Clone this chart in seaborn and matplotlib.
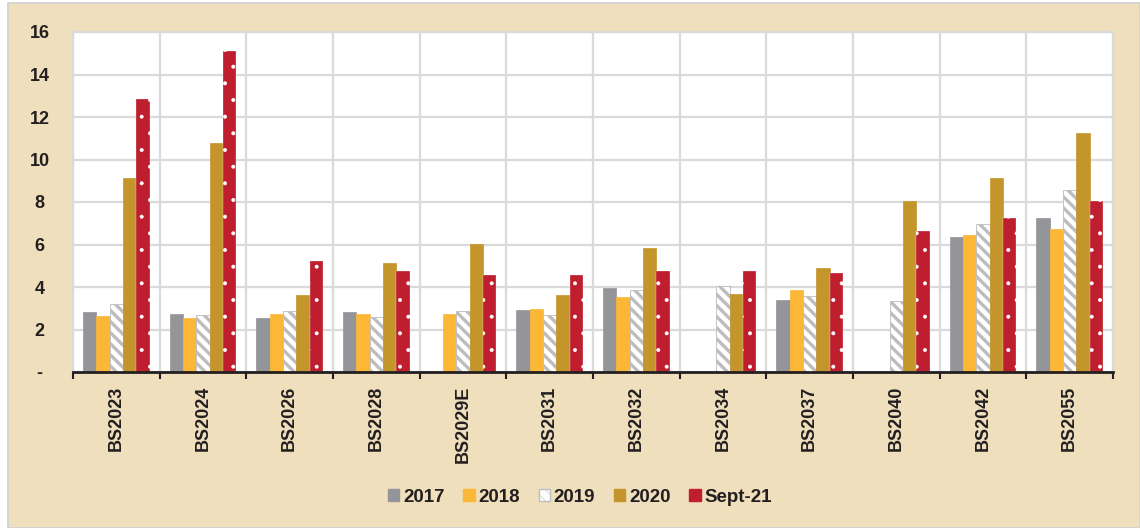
import numpy as np
import pandas as pd
import matplotlib
matplotlib.use("Agg")
import matplotlib.pyplot as plt
import seaborn as sns
from matplotlib.patches import Patch, Rectangle

# bond series and yearly values (NaN = no bar)
bonds = ["BS2023", "BS2024", "BS2026", "BS2028", "BS2029E", "BS2031",
         "BS2032", "BS2034", "BS2037", "BS2040", "BS2042", "BS2055"]
series = ["2017", "2018", "2019", "2020", "Sept-21"]

v2017 = [2.84, 2.73, 2.54, 2.81, np.nan, 2.90, 3.95, np.nan, 3.39, np.nan, 6.34, 7.25]
v2018 = [2.63, 2.53, 2.73, 2.73, 2.73, 2.95, 3.53, np.nan, 3.84, np.nan, 6.45, 6.73]
v2019 = [3.18, 2.67, 2.89, 2.57, 2.89, 2.67, 3.86, 4.05, 3.56, 3.36, 6.96, 8.55]
v2020 = [9.14, 10.79, 3.64, 5.13, 6.04, 3.64, 5.84, 3.69, 4.89, 8.03, 9.13, 11.25]
vsep21 = [12.83, 15.12, 5.24, 4.74, 4.55, 4.55, 4.74, 4.74, 4.64, 6.64, 7.23, 8.03]

colors = ["#939598", "#FBB735", "#FFFFFF", "#C4952A", "#BE1E2D"]
y_ticks = [0, 2, 4, 6, 8, 10, 12, 14, 16]
y_labels = ["-", "2", "4", "6", "8", "10", "12", "14", "16"]

rows = []
for name, vals in zip(series, [v2017, v2018, v2019, v2020, vsep21]):
    for b, v in zip(bonds, vals):
        rows.append({"bond": b, "series": name, "value": v})
df = pd.DataFrame(rows)

sns.set_theme(style="white")
plt.rcParams["font.family"] = ["Liberation Sans", "DejaVu Sans"]
plt.rcParams["font.weight"] = "bold"
plt.rcParams["hatch.linewidth"] = 0.4

fig = plt.figure(figsize=(11.4, 5.28), dpi=100, facecolor="white")
# parchment-coloured panel with thin grey frame, behind everything
fig.patches.append(Rectangle((8 / 1140, 0), 1 - 8 / 1140, 1 - 3 / 528,
                             transform=fig.transFigure, facecolor="#F0DFBC",
                             edgecolor="#D0D0D0", linewidth=1.2, zorder=-10))

ax = fig.add_axes([73 / 1140, 1 - 372 / 528, (1113 - 73) / 1140, (372 - 32) / 528])
ax.set_facecolor("white")

sns.barplot(data=df, x="bond", y="value", hue="series", order=bonds,
            hue_order=series, palette=colors, width=0.77, saturation=1,
            ax=ax, legend=False, zorder=3)

stripe_lw = 2.4
for cont, name in zip(ax.containers, series):
    for bar in cont:
        if name == "2019":
            bar.set_facecolor("white")
            bar.set_edgecolor("#BDBDBD")
            bar.set_hatch("\\\\\\")
            bar.set_linewidth(0.6)
            if hasattr(bar, "set_hatch_linewidth"):
                bar.set_hatch_linewidth(stripe_lw)
        elif name == "Sept-21":
            bar.set_edgecolor("white")
            bar.set_hatch(".")
            bar.set_linewidth(0.2)
        else:
            bar.set_edgecolor(bar.get_facecolor())
            bar.set_linewidth(0.5)

ax.set_ylim(0, 16)
ax.set_xlim(-0.5, len(bonds) - 0.5)
ax.set_yticks(y_ticks)
ax.set_yticklabels(y_labels, fontsize=13, fontweight="bold", color="#231F20")
ax.set_xticks(range(len(bonds)))
ax.set_xticklabels(bonds, rotation=90, fontsize=13, fontweight="bold", color="#231F20")
ax.set_xticks(np.arange(-0.5, len(bonds), 1), minor=True)
ax.tick_params(axis="x", which="major", length=0, pad=10)
ax.tick_params(axis="x", which="minor", length=5, width=1.5, color="#231F20", bottom=True)
ax.tick_params(axis="y", length=0, pad=24)
for lab in ax.get_yticklabels():
    lab.set_horizontalalignment("center")

ax.grid(False)
ax.yaxis.grid(True, color="#DADADA", linewidth=1.6, zorder=0)
ax.xaxis.grid(True, which="minor", color="#DADADA", linewidth=1.6, zorder=0)
ax.set_axisbelow(True)
ax.set_xlabel("")
ax.set_ylabel("")
for side in ["top", "left", "right"]:
    ax.spines[side].set_color("#DADADA")
    ax.spines[side].set_linewidth(1.6)
ax.spines["bottom"].set_color("#231F20")
ax.spines["bottom"].set_linewidth(2)
ax.spines["bottom"].set_zorder(5)

handles = []
for name, c in zip(series, colors):
    if name == "2019":
        h = Patch(facecolor="white", edgecolor="#BDBDBD", hatch="\\\\\\", label=name)
        if hasattr(h, "set_hatch_linewidth"):
            h.set_hatch_linewidth(stripe_lw)
        handles.append(h)
    else:
        handles.append(Patch(facecolor=c, edgecolor=c, label=name))
fig.legend(handles=handles, loc="center", bbox_to_anchor=(580 / 1140, 1 - 497 / 528),
           ncol=5, frameon=False, handlelength=0.6, handleheight=0.6,
           handletextpad=0.2, columnspacing=1.0,
           prop={"size": 13.5, "weight": "bold"}, labelcolor="#231F20")

fig.savefig("out.png", dpi=100, facecolor=fig.get_facecolor())
